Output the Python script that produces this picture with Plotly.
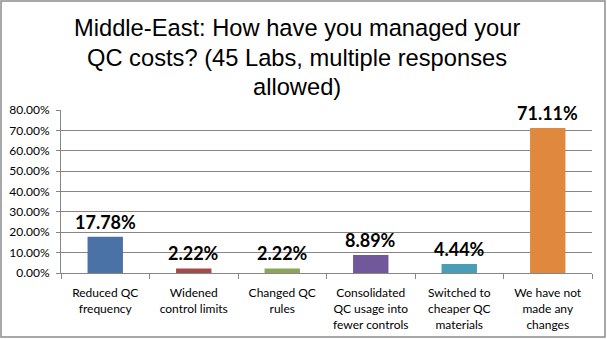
import plotly.graph_objects as go

# Survey responses (share of 45 labs, multiple responses allowed)
categories = [
    "Reduced QC<br>frequency",
    "Widened<br>control limits",
    "Changed QC<br>rules",
    "Consolidated<br>QC usage into<br>fewer controls",
    "Switched to<br>cheaper QC<br>materials",
    "We have not<br>made any<br>changes",
]
shares = [0.1778, 0.0222, 0.0222, 0.0889, 0.0444, 0.7111]
bar_colors = ["#4A72A6", "#A34B49", "#8BA55A", "#71589A", "#4A9DB7", "#E0893E"]
y_ticks = [0.0, 0.1, 0.2, 0.3, 0.4, 0.5, 0.6, 0.7, 0.8]
title_lines = [
    "Middle-East: How have you managed your",
    "QC costs? (45 Labs, multiple responses",
    "allowed)",
]

W, H = 607, 339
margin = dict(l=61, r=15, t=110, b=66)
pw = W - margin["l"] - margin["r"]
ph = H - margin["t"] - margin["b"]


def px_x(x):
    """Horizontal pixel position -> paper coordinate."""
    return (x - margin["l"]) / pw


def px_y(y):
    """Vertical pixel position (from top) -> paper coordinate."""
    return (H - margin["b"] - y) / ph


fig = go.Figure(
    go.Bar(
        x=categories,
        y=shares,
        marker=dict(color=bar_colors, line=dict(width=0)),
        width=0.4,
        hoverinfo="skip",
    )
)

# Value labels above each bar
for cat, val in zip(categories, shares):
    fig.add_annotation(
        x=cat, y=val, xref="x", yref="y",
        text=f"<b>{val * 100:.2f}%</b>",
        showarrow=False, yanchor="bottom", yshift=2,
        font=dict(family="Lato, Noto Sans, sans-serif", size=18, color="#000000"),
    )

# Three-line chart title, one annotation per line for tighter leading
for i, line in enumerate(title_lines):
    fig.add_annotation(
        x=px_x(297), y=px_y(28 + 29.5 * i), xref="paper", yref="paper",
        xanchor="center", yanchor="middle",
        text=line, showarrow=False, align="center",
        font=dict(family="Liberation Sans, Arial, sans-serif", size=23.7, color="#000000"),
    )

# Outer frame around the whole chart area
fig.add_shape(
    type="rect", xref="paper", yref="paper",
    x0=px_x(1), x1=px_x(W - 2),
    y0=px_y(H - 2), y1=px_y(1),
    line=dict(color="#8C8C8C", width=1.5),
    fillcolor="rgba(0,0,0,0)",
    layer="above",
)

fig.update_layout(
    width=W, height=H,
    margin=margin,
    paper_bgcolor="#FFFFFF",
    plot_bgcolor="#FFFFFF",
    showlegend=False,
    xaxis=dict(
        automargin=False,
        showline=True, linecolor="#868686", linewidth=1,
        ticks="outside", tickson="boundaries", ticklen=5, tickcolor="#868686",
        ticklabelstandoff=9,
        tickfont=dict(family="Lato, Noto Sans, sans-serif", size=12, color="#000000"),
        showgrid=False,
        fixedrange=True,
    ),
    yaxis=dict(
        automargin=False,
        range=[0, 0.8],
        tickvals=y_ticks,
        tickformat=".2%",
        showline=True, linecolor="#868686", linewidth=1,
        ticks="outside", ticklen=4, tickcolor="#868686",
        ticklabelstandoff=4,
        showgrid=True, gridcolor="#868686", gridwidth=1,
        zeroline=False,
        tickfont=dict(family="Lato, Noto Sans, sans-serif", size=12, color="#000000"),
        fixedrange=True,
    ),
)

fig.write_html("out.html")
